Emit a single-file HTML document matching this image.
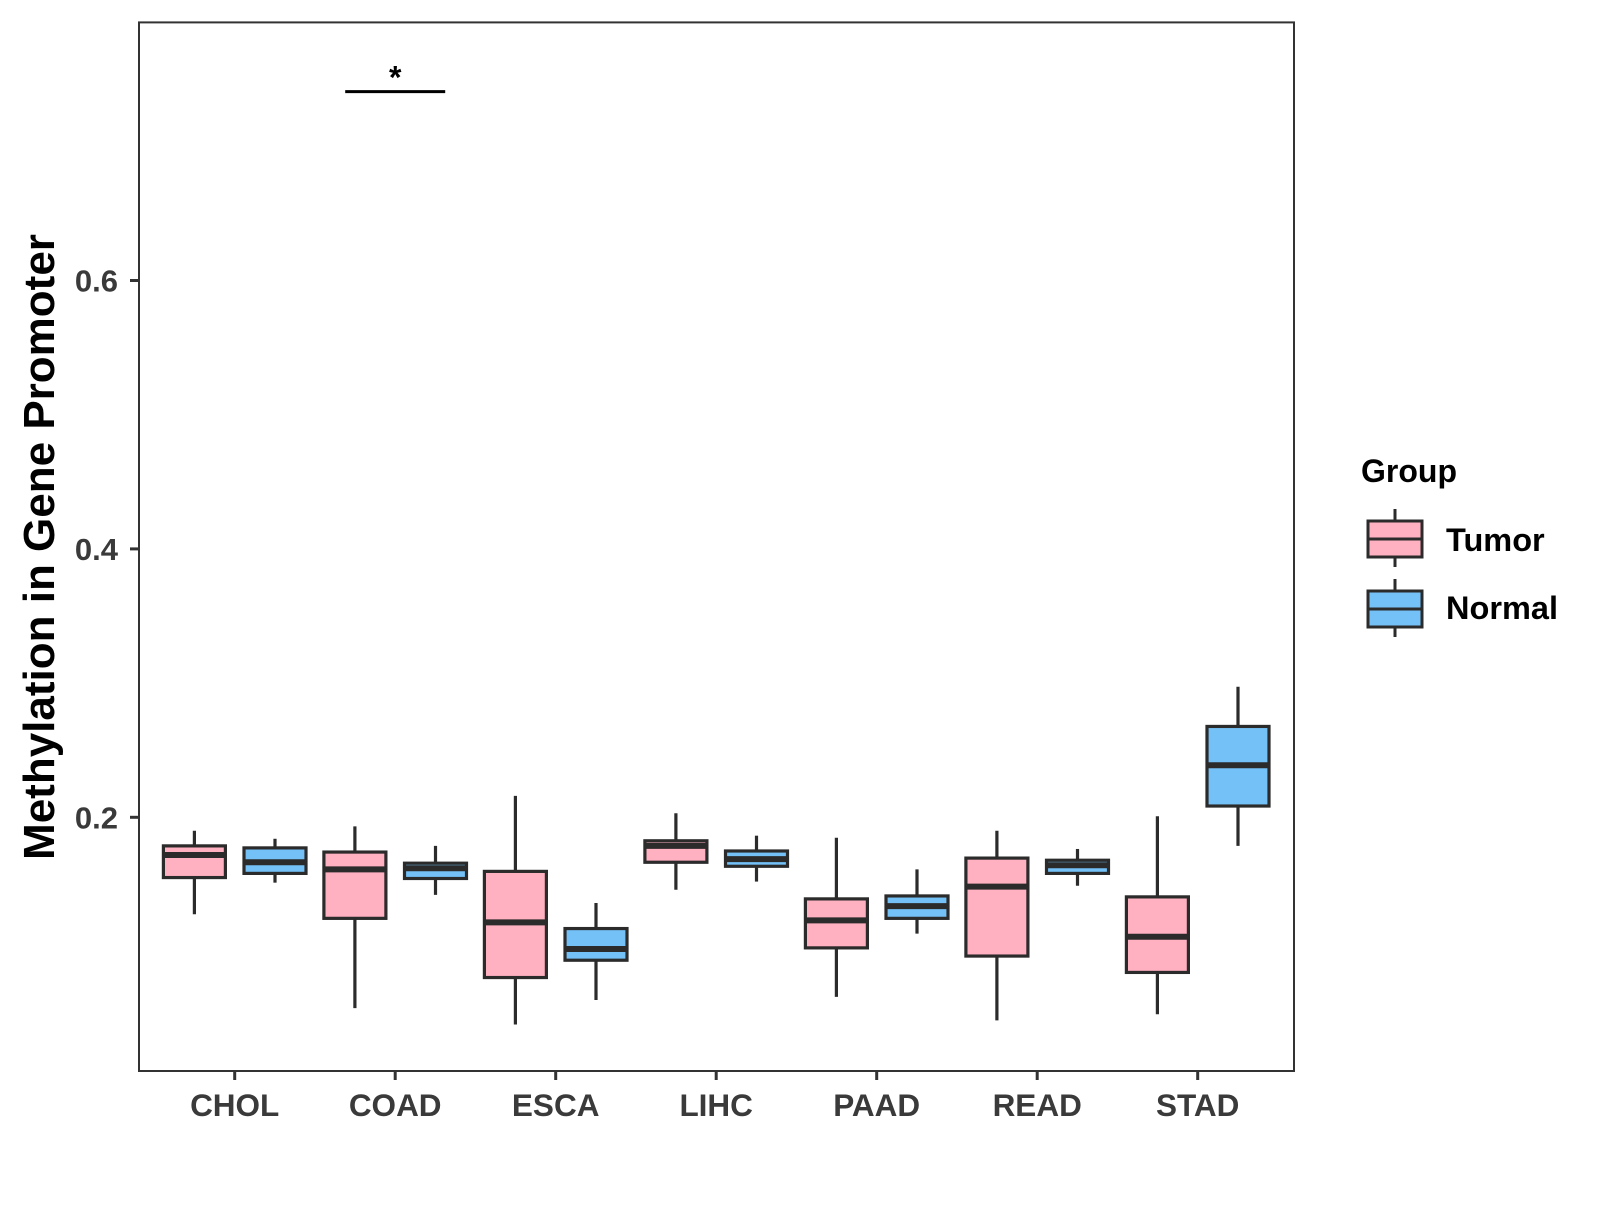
<!DOCTYPE html>
<html><head><meta charset="utf-8">
<style>
html,body{margin:0;padding:0;background:#fff;}
svg text{font-family:"Liberation Sans",Arial,sans-serif;font-weight:bold;}
</style></head>
<body>
<svg id="chart" width="1600" height="1200" viewBox="0 0 1600 1200" xmlns="http://www.w3.org/2000/svg">
<rect x="0" y="0" width="1600" height="1200" fill="#fff"/>
<g id="plot"></g>
<rect x="139" y="22.4" width="1155" height="1048.6" fill="none" stroke="#333" stroke-width="2"/>
<text x="0" y="0" transform="translate(54,547) rotate(-90)" text-anchor="middle" font-size="44" fill="#000">Methylation in Gene Promoter</text>
<g>
<text x="1361" y="482" font-size="32" fill="#000">Group</text>
<g>
<line x1="1395" y1="509" x2="1395" y2="567" stroke="#2b2b2b" stroke-width="3"/>
<rect x="1368" y="521" width="54" height="36" fill="#FFB0C1" stroke="#2b2b2b" stroke-width="3"/>
<line x1="1368" y1="539" x2="1422" y2="539" stroke="#2b2b2b" stroke-width="3"/>
<text x="1446" y="551" font-size="32.5" fill="#000">Tumor</text>
</g>
<g>
<line x1="1395" y1="579" x2="1395" y2="637" stroke="#2b2b2b" stroke-width="3"/>
<rect x="1368" y="591" width="54" height="36" fill="#74C1F8" stroke="#2b2b2b" stroke-width="3"/>
<line x1="1368" y1="609" x2="1422" y2="609" stroke="#2b2b2b" stroke-width="3"/>
<text x="1446" y="619" font-size="32.5" fill="#000">Normal</text>
</g>
</g>
</svg>
<script>
const categories = ["CHOL","COAD","ESCA","LIHC","PAAD","READ","STAD"];
// [whiskerMin, q1, median, q3, whiskerMax]
const tumorStats = [
 [0.1278,0.1551,0.1719,0.1787,0.190],
 [0.0578,0.1247,0.1612,0.1741,0.1932],
 [0.0456,0.0806,0.1217,0.1597,0.216],
 [0.146,0.1665,0.1787,0.1825,0.203],
 [0.0662,0.1027,0.1232,0.1392,0.1848],
 [0.0487,0.0966,0.1483,0.1696,0.190],
 [0.0532,0.0844,0.111,0.1407,0.2008]
];
const normalStats = [
 [0.1513,0.1582,0.1665,0.1772,0.184],
 [0.1422,0.1544,0.1620,0.1658,0.1787],
 [0.0639,0.0935,0.1019,0.1171,0.1361],
 [0.1521,0.1635,0.1688,0.1749,0.1863],
 [0.1133,0.1247,0.1338,0.1414,0.1612],
 [0.149,0.1582,0.1643,0.168,0.1764],
 [0.1787,0.2084,0.2388,0.2677,0.2973]
];
const yTicks = [0.2,0.4,0.6];
const yTickLabels = ["0.2","0.4","0.6"];
const sigValue = 0.7407;
const sigLabel = "*";

const NS="http://www.w3.org/2000/svg";
const plot=document.getElementById('plot');
function yScale(v){return 1085.7 - v*1342;}
function xScale(i){return 234.7 + i*160.5;}
const dodge=40.3, boxW=62;
function mk(tag,attrs,parent){const e=document.createElementNS(NS,tag);for(const k in attrs)e.setAttribute(k,attrs[k]);(parent||plot).appendChild(e);return e;}

yTicks.forEach((t,i)=>{
 const y=yScale(t);
 const tk=mk('line',{x1:130,x2:139,y1:y,y2:y,stroke:'#333','stroke-width':3});
 
 
 const lb=mk('text',{x:118,y:y+11,'text-anchor':'end','font-size':31,fill:'#3a3a3a'});
 lb.textContent=yTickLabels[i];
 
 
});
categories.forEach((c,i)=>{
 const x=xScale(i);
 const tk=mk('line',{x1:x,x2:x,y1:1071,y2:1080,stroke:'#333','stroke-width':3});
 
 
 const lb=mk('text',{x:x,y:1116,'text-anchor':'middle','font-size':31.5,fill:'#3a3a3a'});
 lb.textContent=c;
 
 
});
function drawBox(s,cx,fill,name){
 const g=mk('g',{});
 
 
 mk('line',{x1:cx,x2:cx,y1:yScale(s[0]),y2:yScale(s[4]),stroke:'#2b2b2b','stroke-width':3.2},g);
 mk('rect',{x:cx-boxW/2,y:yScale(s[3]),width:boxW,height:yScale(s[1])-yScale(s[3]),fill:fill,stroke:'#2b2b2b','stroke-width':3.2},g);
 mk('line',{x1:cx-boxW/2,x2:cx+boxW/2,y1:yScale(s[2]),y2:yScale(s[2]),stroke:'#2b2b2b','stroke-width':6},g);
}
categories.forEach((c,i)=>{
 drawBox(tumorStats[i],xScale(i)-dodge,'#FFB0C1','box-tumor-'+c.toLowerCase());
 drawBox(normalStats[i],xScale(i)+dodge,'#74C1F8','box-normal-'+c.toLowerCase());
});
const sy=yScale(sigValue);
const sl=mk('line',{x1:xScale(1)-50,x2:xScale(1)+50,y1:sy,y2:sy,stroke:'#000','stroke-width':3});


const st=mk('text',{x:xScale(1),y:sy-3,'text-anchor':'middle','font-size':32,fill:'#000'});
st.textContent=sigLabel;


</script>
</body></html>
